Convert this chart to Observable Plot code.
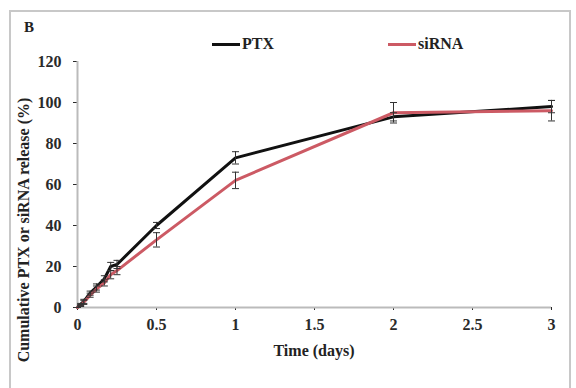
<!DOCTYPE html>
<html><head><meta charset="utf-8">
<script src="https://cdn.jsdelivr.net/npm/d3@7"></script>
<script src="https://cdn.jsdelivr.net/npm/@observablehq/plot@0.6"></script>
<style>
html,body{margin:0;padding:0;background:#fff;}
#wrap{position:relative;width:576px;height:388px;overflow:hidden;font-family:"Liberation Serif","DejaVu Serif",serif;font-weight:bold;}
#frame{position:absolute;left:9px;top:10px;width:562px;height:390px;border:2px solid #c8c8c8;box-sizing:border-box;}
#panel{position:absolute;left:24px;top:19px;font-size:15px;color:#222;}
.leg{position:absolute;top:35px;font-size:16px;color:#222;display:flex;align-items:center;}
.leg span.sw{display:inline-block;width:28px;height:3px;margin-right:2px;}
#ylab{position:absolute;left:24px;top:230px;transform:translate(-50%,-50%) rotate(-90deg);white-space:nowrap;font-size:16px;color:#222;}
#xlab{position:absolute;left:314px;top:351px;transform:translate(-50%,-50%);white-space:nowrap;font-size:16px;color:#222;}
#chart{position:absolute;left:0;top:0;}
</style></head>
<body><div id="wrap"><div id="frame"></div><div id="panel">B</div><div id="chart"></div></div>
<script>
const seriesNames = ["PTX", "siRNA"];
const seriesColors = ["#111111", "#cc5a64"];
const times = [0, 0.02, 0.04, 0.08, 0.12, 0.17, 0.21, 0.25, 0.5, 1, 2, 3];
const ptxValues = [0, 1.5, 3, 7, 10, 14, 20, 21, 40, 73, 93, 98];
const ptxErrors = [0, 0.5, 1, 1, 1.5, 1.5, 2, 2, 1.5, 3, 2, 3];
const sirnaValues = [0, 1, 2.5, 6, 9, 12, 16, 18, 33, 62, 95, 96];
const sirnaErrors = [0, 0.5, 1, 1, 1.5, 1.5, 2, 2, 3.5, 4, 5, 5];
const xTicks = [0, 0.5, 1, 1.5, 2, 2.5, 3];
const yTicks = [0, 20, 40, 60, 80, 100, 120];
const xLabel = "Time (days)";
const yLabel = "Cumulative PTX or siRNA release (%)";

const data = [];
times.forEach((t, i) => {
  data.push({series: seriesNames[0], t, v: ptxValues[i], e: ptxErrors[i]});
  data.push({series: seriesNames[1], t, v: sirnaValues[i], e: sirnaErrors[i]});
});
const caps = [];
data.forEach(d => { caps.push({...d, y: d.v + d.e}); caps.push({...d, y: d.v - d.e}); });
const capSymbol = {draw(ctx, size) { const w = 3.5; ctx.moveTo(-w, 0); ctx.lineTo(w, 0); }};

const chart = Plot.plot({
  width: 576, height: 388,
  marginLeft: 77, marginRight: 25, marginTop: 61, marginBottom: 81,
  style: {fontFamily: '"Liberation Serif","DejaVu Serif",serif', fontWeight: "bold", fontSize: "16px", color: "#2a2a2a", background: "transparent"},
  x: {domain: [0, 3], ticks: xTicks, tickFormat: d => String(d), label: null, tickSize: 3, tickPadding: 8},
  y: {domain: [0, 120], ticks: yTicks, tickFormat: d => String(d), label: null, tickSize: 4, tickPadding: 12},
  color: {domain: seriesNames, range: seriesColors},
  marks: [
    Plot.ruleY([0], {stroke: "#bbbbbb", strokeWidth: 2}),
    Plot.ruleX([0], {stroke: "#bbbbbb", strokeWidth: 2}),
    Plot.line(data, {x: "t", y: "v", z: "series", stroke: "series", strokeWidth: 3, strokeLinejoin: "round"}),
    Plot.ruleX(data, {x: "t", y1: d => d.v - d.e, y2: d => d.v + d.e, stroke: "#333", strokeWidth: 1}),
    Plot.dot(caps, {x: "t", y: "y", symbol: capSymbol, stroke: "#333", strokeWidth: 1, r: 3})
  ]
});
document.getElementById("chart").appendChild(chart);

const wrap = document.getElementById("wrap");
const legPos = [212, 388];
seriesNames.forEach((s, i) => {
  const el = document.createElement("div");
  el.className = "leg";
  el.style.left = legPos[i] + "px";
  el.innerHTML = `<span class="sw" style="background:${seriesColors[i]}"></span>${s}`;
  wrap.appendChild(el);
});
const yl = document.createElement("div");
yl.id = "ylab"; yl.textContent = yLabel; wrap.appendChild(yl);
const xl = document.createElement("div");
xl.id = "xlab"; xl.textContent = xLabel; wrap.appendChild(xl);
</script></body></html>
